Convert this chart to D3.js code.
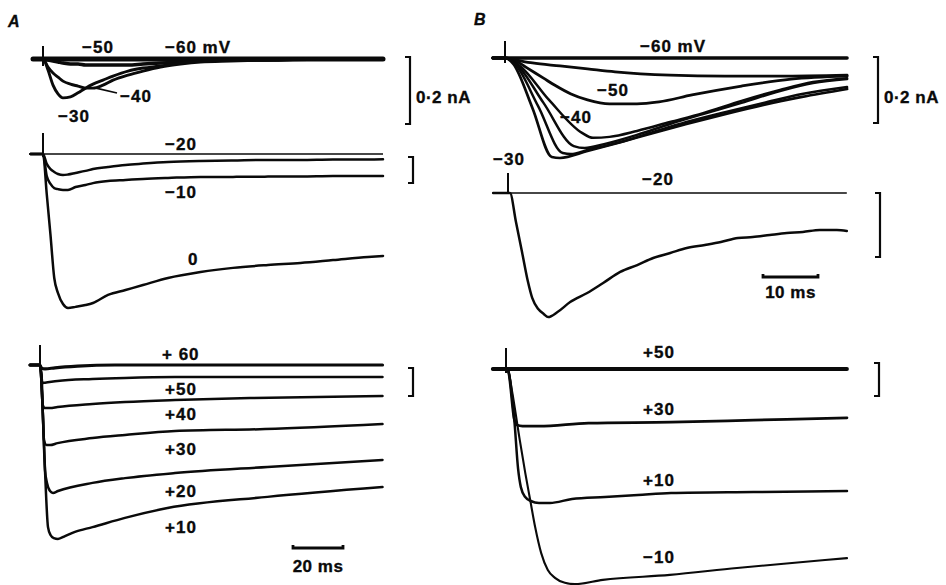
<!DOCTYPE html>
<html>
<head>
<meta charset="utf-8">
<script src="https://cdn.jsdelivr.net/npm/d3@7"></script>
<style>
  html, body { margin: 0; padding: 0; background: #ffffff; }
  svg { display: block; }
  text { font-family: "Liberation Sans", Arial, Helvetica, sans-serif; font-weight: bold; fill: #0a0a0a;
         stroke: #0a0a0a; stroke-width: 0.35px; paint-order: stroke; }
</style>
</head>
<body>
<svg id="fig" width="946" height="585"></svg>
<script>
// ---------------------------------------------------------------
// Membrane currents at each test potential: [time (ms), current (nA)]
// Inward current is negative.
// ---------------------------------------------------------------

// Panel A, small steps (-60 .. -30 mV)
const aTopM60 = [[-4,0],[136,0]];
const aTopM50 = [[-4,0],[0,0],[2,-0.003],[4,-0.006],[6,-0.009],[8,-0.012],[11,-0.015],[14,-0.015],[17,-0.018],[20,-0.018],[24,-0.018],[28,-0.018],[34,-0.018],[40,-0.015],[47,-0.012],[55,-0.009],[63,-0.006],[75,-0.003],[90,-0.003],[110,0],[136,0]];
const aTopM40 = [[-4,0],[0,0],[2,-0.024],[4,-0.042],[6,-0.054],[8,-0.066],[11,-0.075],[14,-0.081],[17,-0.087],[20,-0.087],[24,-0.078],[28,-0.063],[34,-0.048],[40,-0.036],[47,-0.024],[55,-0.015],[63,-0.009],[75,-0.006],[90,-0.003],[110,0],[136,0]];
const aTopM30 = [[-4,0],[0,0],[2,-0.033],[4,-0.078],[6,-0.104],[8,-0.116],[11,-0.113],[14,-0.101],[17,-0.087],[20,-0.075],[24,-0.063],[28,-0.051],[34,-0.036],[40,-0.027],[47,-0.021],[55,-0.012],[63,-0.006],[75,-0.003],[90,-0.003],[110,0],[136,0]];

// Panel A, -20 .. 0 mV (shared sample times)
const aMidTimes = [-5,0,1.5,3,4.5,6,8,10,13,17,20,26,33,40,50,63,76,90,103,116,130,136];
const aMidM20 = [0,0,-0.38,-0.58,-0.69,-0.77,-0.81,-0.79,-0.73,-0.65,-0.58,-0.5,-0.42,-0.37,-0.31,-0.27,-0.25,-0.23,-0.23,-0.21,-0.21,-0.2];
const aMidM10 = [0,0,-0.85,-1.15,-1.31,-1.35,-1.38,-1.38,-1.27,-1.19,-1.12,-1.04,-1.0,-0.96,-0.92,-0.88,-0.88,-0.87,-0.87,-0.85,-0.85,-0.85];
const aMid0   = [0,0,-1.54,-3.12,-4.77,-5.35,-5.77,-5.92,-5.88,-5.81,-5.73,-5.42,-5.23,-5.04,-4.77,-4.54,-4.38,-4.27,-4.19,-4.08,-3.96,-3.92];

// Panel A, +10 .. +60 mV
const aBotP60 = [[-4,0],[0,0],[0.5,-0.1],[2,-0.14],[6,-0.1],[15,-0.04],[30,0],[137,0]];
const aBotP50 = [[-4,0],[0,0],[0.6,-0.36],[0.9,-0.64],[2,-0.63],[7,-0.57],[21,-0.5],[34,-0.46],[54,-0.43],[137,-0.43]];
const aBotP40 = [[-4,0],[0,0],[0.8,-0.71],[1.1,-1.43],[2,-1.54],[4,-1.54],[7,-1.5],[21,-1.39],[34,-1.32],[54,-1.25],[84,-1.18],[137,-1.11]];
const aBotP30 = [[-4,0],[0,0],[1,-1.43],[1.6,-2.68],[2.6,-2.86],[4,-2.86],[7,-2.79],[21,-2.61],[34,-2.5],[54,-2.36],[90,-2.29],[137,-2.11]];
const aBotP20 = [[-4,0],[0,0],[1,-1.43],[2,-3.75],[2.8,-4.21],[4,-4.5],[5.2,-4.57],[7.2,-4.5],[21,-4.21],[34,-4.04],[54,-3.86],[91,-3.64],[137,-3.39]];
const aBotP10 = [[-4,0],[0,0],[1,-1.43],[2,-3.75],[3.2,-5.79],[4.2,-6.07],[5.5,-6.18],[7.2,-6.21],[10,-6.11],[14,-5.96],[21,-5.79],[34,-5.46],[51,-5.11],[91,-4.71],[137,-4.36]];

// Panel B, small steps (-60 .. -30 mV)
const bTopM60 = [[-2.2,0],[62.2,0]];
const bTopM55 = [[-2.2,0],[0,0],[2,-0.006],[5,-0.015],[10,-0.024],[15,-0.033],[20,-0.042],[30,-0.052],[40,-0.055],[50,-0.055],[62.2,-0.052]];
const bTopM50 = [[-2.2,0],[0,0],[2,-0.009],[4,-0.03],[7,-0.061],[9,-0.082],[12,-0.109],[15,-0.127],[19,-0.139],[24,-0.139],[28,-0.133],[34,-0.112],[43,-0.085],[52,-0.064],[62.2,-0.055]];
const bTopM45 = [[-2.2,0],[0,0],[2.5,-0.021],[8,-0.127],[14,-0.227],[16,-0.242],[19,-0.239],[24,-0.221],[30,-0.194],[36,-0.167],[43,-0.13],[50,-0.097],[56,-0.073],[62.2,-0.061]];
const bTopM40 = [[-2.2,0],[0,0],[2,-0.018],[7,-0.136],[12.5,-0.267],[14.5,-0.273],[18,-0.261],[24,-0.233],[30,-0.2],[36,-0.17],[43,-0.136],[50,-0.1],[56,-0.076],[62.2,-0.064]];
const bTopM35 = [[-2.2,0],[0,0],[1.8,-0.018],[6,-0.145],[10.5,-0.288],[12,-0.291],[15,-0.279],[21,-0.255],[27,-0.224],[33,-0.194],[40,-0.164],[47,-0.136],[54,-0.109],[62.2,-0.088]];
const bTopM30 = [[-2.2,0],[0,0],[1.5,-0.018],[5,-0.152],[8.5,-0.3],[10,-0.303],[15,-0.282],[21,-0.255],[27,-0.227],[33,-0.2],[40,-0.17],[47,-0.142],[54,-0.118],[62.2,-0.094]];

// Panel B, -20 mV
const bMidM20 = [[-2.7,0],[0,0],[0.36,0],[1.45,-0.227],[2.55,-0.461],[3.6,-0.688],[4.4,-0.82],[5.5,-0.906],[6.5,-0.945],[7.3,-0.969],[9,-0.93],[11.3,-0.852],[14.4,-0.781],[17.3,-0.703],[20.4,-0.617],[23.5,-0.563],[26.4,-0.508],[29.5,-0.469],[32.5,-0.43],[35.8,-0.406],[38.7,-0.383],[41.8,-0.352],[44.5,-0.344],[47.6,-0.328],[50.7,-0.313],[53.6,-0.305],[56.7,-0.289],[59.8,-0.289],[61.6,-0.297]];

// Panel B, -10 .. +50 mV
const bBotP50 = [[-2.4,0],[62,0]];
const bBotP30 = [[-2.4,0],[0,0],[0.4,-0.06],[1.5,-1.52],[2,-1.7],[3,-1.73],[6,-1.73],[15,-1.64],[30,-1.61],[45,-1.55],[62,-1.48]];
const bBotP10 = [[-2.4,0],[0,0],[0.4,-0.06],[1.5,-1.52],[2.2,-3.03],[2.7,-3.58],[3.5,-3.88],[4.5,-4.0],[6,-4.06],[8,-4.06],[12,-3.94],[18,-3.88],[24,-3.82],[30,-3.76],[45,-3.73],[62,-3.7]];
const bBotM10 = [[-2.4,0],[0,0],[0.4,-0.06],[1.1,-0.67],[2.5,-2.15],[3.5,-3.15],[4.4,-3.97],[5.3,-4.79],[6.4,-5.58],[7.6,-6.09],[8.9,-6.33],[10.7,-6.48],[12.5,-6.52],[17.6,-6.39],[29.8,-6.24],[42,-6.03],[54,-5.85],[62,-5.73]];

// Calibration bars (nA for current, ms for time)
const currentCalib = { A: [0.2, 1, 1], B: [0.2, 0.5, 1] };
const timeCalib = { A: 20, B: 10 };

// ---------------------------------------------------------------
// Layout
// ---------------------------------------------------------------
const zip = (t, v) => t.map((d, i) => [d, v[i]]);

const pxPerMs = { A: 2.5, B: 5.5 };

const groups = [
  { panel: "A", calib: currentCalib.A[0], x0: 43, baseY: 59, barTop: 57, barPx: 67, barX: 410,
    spike: [-13, 7], zeroLine: null,
    traces: [
      { v: "−60 mV", data: aTopM60, w: 5, lx: 165, ly: 53 },
      { v: "−50", data: aTopM50, w: 3.4, lx: 82, ly: 53 },
      { v: "−40", data: aTopM40, w: 2.9, lx: 120, ly: 102 },
      { v: "−30", data: aTopM30, w: 2.9, lx: 58, ly: 122 }
    ], unit: "0·2 nA", unitX: 416, unitY: 103 },
  { panel: "A", calib: currentCalib.A[1], x0: 43, baseY: 154, barTop: 157, barPx: 26, barX: 413,
    spike: [-21, 3], zeroLine: [-5, 136],
    traces: [
      { v: "−20", data: zip(aMidTimes, aMidM20), w: 2.5, lx: 165, ly: 150 },
      { v: "−10", data: zip(aMidTimes, aMidM10), w: 2.5, lx: 165, ly: 198 },
      { v: "0",   data: zip(aMidTimes, aMid0),   w: 2.5, lx: 188, ly: 265 }
    ] },
  { panel: "A", calib: currentCalib.A[2], x0: 40, baseY: 365, barTop: 368, barPx: 28, barX: 413,
    spike: [-20, 4], zeroLine: null,
    traces: [
      { v: "+ 60", data: aBotP60, w: 3.2, lx: 162, ly: 360 },
      { v: "+50", data: aBotP50, w: 2.5, lx: 165, ly: 395 },
      { v: "+40", data: aBotP40, w: 2.5, lx: 165, ly: 420 },
      { v: "+30", data: aBotP30, w: 2.5, lx: 165, ly: 455 },
      { v: "+20", data: aBotP20, w: 2.5, lx: 165, ly: 497 },
      { v: "+10", data: aBotP10, w: 2.5, lx: 165, ly: 533 }
    ], timeBar: { x: 293, y: 548, labelY: 572 } },

  { panel: "B", calib: currentCalib.B[0], x0: 505, baseY: 58, barTop: 57, barPx: 66, barX: 878,
    spike: [-17, 5], zeroLine: null,
    traces: [
      { v: "−60 mV", data: bTopM60, w: 3.4, lx: 640, ly: 52 },
      { v: "", data: bTopM55, w: 2.8 },
      { v: "−50", data: bTopM50, w: 2.8, lx: 597, ly: 96 },
      { v: "", data: bTopM45, w: 2.5 },
      { v: "−40", data: bTopM40, w: 2.5, lx: 560, ly: 123 },
      { v: "", data: bTopM35, w: 2.5 },
      { v: "−30", data: bTopM30, w: 2.7, lx: 493, ly: 165 }
    ], unit: "0·2 nA", unitX: 884, unitY: 103 },
  { panel: "B", calib: currentCalib.B[1], x0: 508, baseY: 193, barTop: 193, barPx: 64, barX: 880,
    spike: [-20, 1], zeroLine: [-2.7, 61.6],
    traces: [
      { v: "−20", data: bMidM20, w: 2.5, lx: 642, ly: 185 }
    ], timeBar: { x: 763, y: 277, labelY: 298 } },
  { panel: "B", calib: currentCalib.B[2], x0: 506, baseY: 369, barTop: 363, barPx: 33, barX: 879,
    spike: [-21, 4], zeroLine: null,
    traces: [
      { v: "+50", data: bBotP50, w: 3.8, lx: 643, ly: 358 },
      { v: "+30", data: bBotP30, w: 2.7, lx: 643, ly: 415 },
      { v: "+10", data: bBotP10, w: 2.5, lx: 643, ly: 486 },
      { v: "−10", data: bBotM10, w: 2.1, lx: 643, ly: 563 }
    ] }
];

const svg = d3.select("#fig");
const ink = "#0a0a0a";

// Panel letters
svg.append("text").attr("x", 8).attr("y", 27).attr("font-size", 16).attr("font-style", "italic").text("A");
svg.append("text").attr("x", 474).attr("y", 25).attr("font-size", 16).attr("font-style", "italic").text("B");

groups.forEach(g => {
  const k = pxPerMs[g.panel];
  const x = d3.scaleLinear().domain([0, 1]).range([g.x0, g.x0 + k]);
  const y = d3.scaleLinear().domain([0, -g.calib]).range([g.baseY, g.baseY + g.barPx]);
  const line = d3.line().x(d => x(d[0])).y(d => y(d[1])).curve(d3.curveMonotoneX);
  const G = svg.append("g");

  // zero-current reference
  if (g.zeroLine) {
    G.append("line")
      .attr("x1", x(g.zeroLine[0])).attr("x2", x(g.zeroLine[1]))
      .attr("y1", y(0)).attr("y2", y(0))
      .attr("stroke", ink).attr("stroke-width", 1.4);
  }

  // current traces
  G.selectAll("path.trace").data(g.traces).join("path")
    .attr("class", "trace")
    .attr("d", d => line(d.data))
    .attr("fill", "none")
    .attr("stroke", ink)
    .attr("stroke-width", d => d.w)
    .attr("stroke-linejoin", "round")
    .attr("stroke-linecap", "round");

  // stimulus artefact at step onset
  G.append("line")
    .attr("x1", x(0)).attr("x2", x(0))
    .attr("y1", y(0) + g.spike[0]).attr("y2", y(0) + g.spike[1])
    .attr("stroke", ink).attr("stroke-width", 2);

  // voltage labels
  G.selectAll("text.lab").data(g.traces.filter(d => d.v)).join("text")
    .attr("class", "lab")
    .attr("x", d => d.lx).attr("y", d => d.ly)
    .attr("font-size", 17).attr("letter-spacing", 1)
    .text(d => d.v);

  // current calibration bracket
  const yb0 = g.barTop, yb1 = g.barTop + (y(-g.calib) - y(0));
  G.append("path")
    .attr("d", `M${g.barX - 5},${yb0}H${g.barX}V${yb1}H${g.barX - 5}`)
    .attr("fill", "none").attr("stroke", ink).attr("stroke-width", 2.2);
  if (g.unit) {
    G.append("text").attr("x", g.unitX).attr("y", g.unitY)
      .attr("font-size", 17).attr("letter-spacing", 0.5).text(g.unit);
  }

  // time calibration bar
  if (g.timeBar) {
    const len = x(timeCalib[g.panel]) - x(0);
    const tb = g.timeBar;
    G.append("path")
      .attr("d", `M${tb.x},${tb.y - 3}V${tb.y}H${tb.x + len}V${tb.y - 3}`)
      .attr("fill", "none").attr("stroke", ink).attr("stroke-width", 2.8);
    G.append("text").attr("x", tb.x + len / 2).attr("y", tb.labelY)
      .attr("text-anchor", "middle").attr("font-size", 17).attr("letter-spacing", 0.5)
      .text(`${timeCalib[g.panel]} ms`);
  }

  // leader from the -40 mV label to its trace (panel A)
  if (g.panel === "A" && g.traces[2].data === aTopM40) {
    const p = aTopM40.find(d => d[0] === 20);
    G.append("line")
      .attr("x1", x(p[0]) + 3).attr("y1", y(p[1]))
      .attr("x2", g.traces[2].lx - 3).attr("y2", g.traces[2].ly - 9)
      .attr("stroke", ink).attr("stroke-width", 1.6);
  }
});
</script>
</body>
</html>
